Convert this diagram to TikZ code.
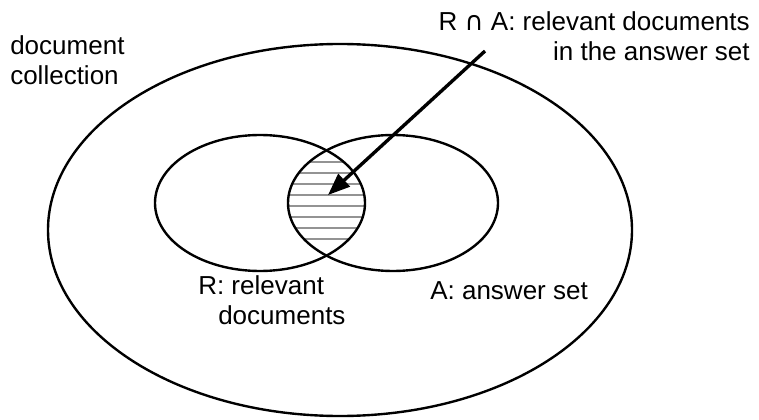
\documentclass[tikz,border=0pt]{standalone}
\usepackage{fontspec}
\setmainfont{Liberation Sans}
\newfontfamily\capfont{DejaVu Sans}
\usetikzlibrary{arrows.meta}
\tikzset
{
  region/.style={draw=black,line width=1.7pt},
  hatch/.style={draw=gray!85,line width=0.9pt},
  pointer/.style={draw=black,line width=2.4pt,-{Triangle[length=0.55cm,width=0.42cm]}},
  caption/.style={font=\fontsize{18.5}{21.5}\selectfont,inner sep=0pt}
}

\begin{document}
\begin{tikzpicture}
    \useasboundingbox (0,0) rectangle (18.975,10.475);

    % Draw the document collection
    \draw[region] (8.5,4.725) ellipse [x radius=7.3, y radius=4.65];

    % Hatch the overlap of R and A
    \begin{scope}
        \clip (6.5,5.4) ellipse [x radius=2.625, y radius=1.7];
        \clip (9.825,5.4) ellipse [x radius=2.625, y radius=1.7];
        \foreach \y in {4.5,4.775,...,6.45}
            \draw[hatch] (7,\y) -- (9.5,\y);
    \end{scope}

    % Draw R and A
    \draw[region] (6.5,5.4) ellipse [x radius=2.625, y radius=1.7];
    \draw[region] (9.825,5.4) ellipse [x radius=2.625, y radius=1.7];

    % Labels
    \node[caption,anchor=north west,align=left] (coll) at (0.25,9.6) {document\\collection};
    \node[caption,anchor=north east,align=right] (both) at (18.75,10.2) {R {\capfont ∩} A: relevant documents\\in the answer set};
    \node[caption,anchor=north west,align=left] (rel) at (4.95,3.6) {R: relevant\\\hspace*{0.5cm}documents};
    \node[caption,anchor=north west] (ans) at (10.75,3.45) {A: answer set};

    % Arrow into the overlap
    \coordinate (tail) at (12.125,9.2);
    \coordinate (overlap) at (8.2,5.6);
    \draw[pointer] (tail) -- (overlap);
\end{tikzpicture}
\end{document}
